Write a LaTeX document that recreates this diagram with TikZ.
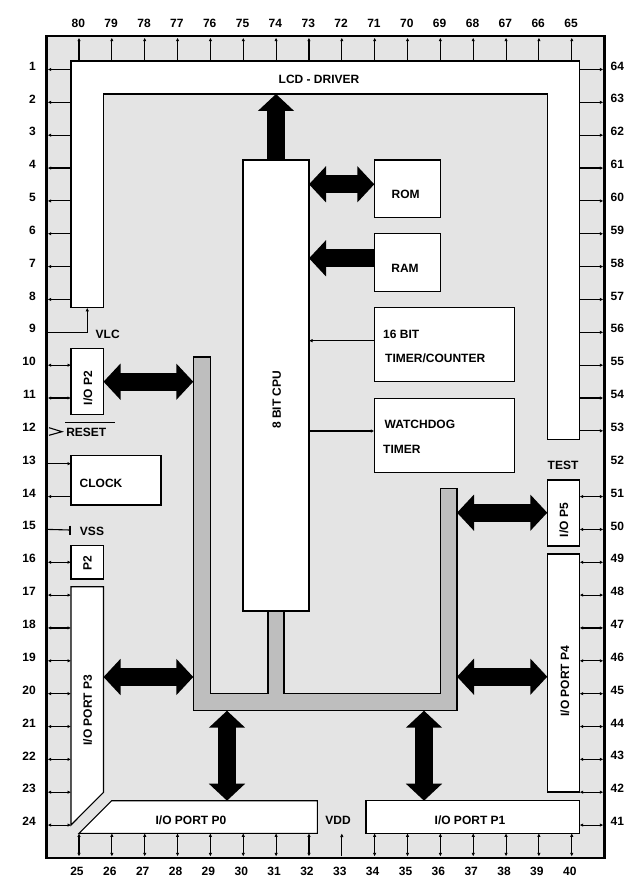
\documentclass[tikz,border=0pt]{standalone}
\usepackage{fontspec}
\setmainfont{Liberation Sans}
\usetikzlibrary{arrows.meta}
\definecolor{chipgray}{HTML}{E4E4E4}
\definecolor{busgray}{HTML}{BEBEBE}
\tikzset{
  blockbox/.style={draw,fill=white,line width=1.1pt,inner sep=0pt,outer sep=0pt},
  shapeline/.style={draw,fill=white,line width=1.1pt,line join=miter},
  txt/.style={inner sep=0pt,font=\fontsize{12}{14}\selectfont\bfseries},
  vtxt/.style={txt,rotate=90},
  pinout/.style={line width=1.1pt,-{Latex[length=3.5pt,width=3.5pt]}},
  pinboth/.style={line width=1.1pt,{Latex[length=3.5pt,width=3.5pt]}-{Latex[length=3.5pt,width=3.5pt]}},
  fatend/.style={line width=18pt,-{Triangle[length=17pt,width=35.3pt]}},
  fatboth/.style={line width=18pt,{Triangle[length=17pt,width=35.3pt]}-{Triangle[length=17pt,width=35.3pt]}}
}
\begin{document}
\begin{tikzpicture}[x=1pt,y=-1pt,line cap=butt,line join=miter]
\useasboundingbox (0,0) rectangle (624,877);
\fill [white] (0,0) rectangle (624,877);
\draw [line width=2.4pt,fill=chipgray] (46.5,36.3) rectangle (604.5,857.7);
% lcd driver and grey bus
\draw [shapeline] (71,61) -- (579.7,61) -- (579.7,439.5) -- (547.3,439.5) -- (547.3,94) -- (103.5,94) -- (103.5,307.5) -- (71,307.5) -- cycle;
\draw [line width=1.1pt,fill=busgray] (193.3,357) -- (210.3,357) -- (210.3,693.7) -- (268,693.7) -- (268,611) -- (284,611) -- (284,693.7) -- (440.3,693.7) -- (440.3,488.3) -- (457,488.3) -- (457,710.7) -- (193.3,710.7) -- cycle;
% ports with cut corners
\draw [shapeline] (71,586.7) -- (103.5,586.7) -- (103.5,792.3) -- (71,825) -- cycle;
\draw [shapeline] (79,833.3) -- (111.7,800.7) -- (317.3,800.7) -- (317.3,833.3) -- cycle;
% blocks
\node [blockbox,minimum width=66pt,minimum height=451pt] (cpu) at (276,385.5) {};
\node [blockbox,minimum width=66pt,minimum height=57.5pt] (rom) at (407.3,188.75) {};
\node [blockbox,minimum width=66pt,minimum height=58pt] (ram) at (407.3,262.5) {};
\node [blockbox,minimum width=140pt,minimum height=74pt] (timer) at (444.3,344.7) {};
\node [blockbox,minimum width=140pt,minimum height=74pt] (watchdog) at (444.3,435.3) {};
\node [blockbox,minimum width=32.5pt,minimum height=66pt] (iopt) at (87.25,381.3) {};
\node [blockbox,minimum width=90pt,minimum height=49.3pt] (clock) at (116,480.35) {};
\node [blockbox,minimum width=32.5pt,minimum height=33.3pt] (ptwo) at (87.25,562.35) {};
\node [blockbox,minimum width=32.4pt,minimum height=66pt] (iopf) at (563.5,513) {};
\node [blockbox,minimum width=32.4pt,minimum height=238pt] (iopr) at (563.5,673) {};
\node [blockbox,minimum width=213.7pt,minimum height=32.6pt] (iopb) at (472.85,817) {};
% texts
\node [txt] (lcdtxt) at (319,79.5) {LCD - DRIVER};
\node [vtxt] (cputxt) at (276.7,399.7) {8 BIT CPU};
\node [txt] (romtxt) at (405.7,194.7) {ROM};
\node [txt] (ramtxt) at (405,268.5) {RAM};
\node [txt,anchor=west] (timtxta) at (383,334) {16 BIT};
\node [txt,anchor=west] (timtxtb) at (385,358.3) {TIMER/COUNTER};
\node [txt,anchor=west] (wdtxta) at (384.5,424.3) {WATCHDOG};
\node [txt,anchor=west] (wdtxtb) at (383,449.3) {TIMER};
\node [vtxt] (ioptxt) at (88,388) {I/O P2};
\node [txt] (clocktxt) at (101,483) {CLOCK};
\node [vtxt] (ptwotxt) at (87.5,563) {P2};
\node [vtxt] (ptxt) at (87.7,710) {I/O PORT P3};
\node [txt] (pztxt) at (191,820) {I/O PORT P0};
\node [txt] (potxt) at (470,820) {I/O PORT P1};
\node [vtxt] (pftxt) at (564,520) {I/O P5};
\node [vtxt] (prtxt) at (565,681) {I/O PORT P4};
\node [txt] (vlctxt) at (107.7,334) {VLC};
\node [txt] (vsstxt) at (92,531) {VSS};
\node [txt] (vddtxt) at (338,820) {VDD};
\node [txt] (testtxt) at (563,465.7) {TEST};
\node [txt] (resettxt) at (86.3,432.5) {RESET};
\coordinate (resetl) at (65,422.7);
\coordinate (resetr) at (115,422.7);
\draw [line width=1.1pt] (resetl) -- (resetr);
% top row 80..65, bottom row 25..40
\foreach \n [count=\i from 0] in {80,79,...,65} {
  \node [txt] (lab\n) at ({78.3+32.85*\i},23) {\n};
  \coordinate (lead\n) at ({79+32.85*\i},61);
  \coordinate (pin\n) at ({79+32.85*\i},37.7);
  \draw [pinout] (lead\n) -- (pin\n);
}
\foreach \n [count=\i from 0] in {25,26,...,32,34,35,...,40} {
  \pgfmathsetmacro{\px}{79+32.85*(\n-25)}
  \node [txt] (lab\n) at ({\px-2},871.7) {\n};
  \coordinate (lead\n) at (\px,833.3);
  \coordinate (pin\n) at (\px,856.4);
  \draw [pinboth] (lead\n) -- (pin\n);
}
\node [txt] (lab33) at (339.8,871.7) {33};
\coordinate (lead33) at (341.8,833.5);
\coordinate (pin33) at (341.8,856.4);
\draw [pinout] (pin33) -- (lead33);
% left row
\foreach \n in {1,...,24} {
  \pgfmathsetmacro{\py}{69.5+32.85*(\n-1)}
  \node [txt,anchor=east] (lab\n) at (36,{\py-3.5}) {\n};
  \coordinate (pin\n) at (47.7,\py);
  \coordinate (lead\n) at (71,\py);
}
\foreach \n in {1,...,8,14} {
  \draw [pinout] (lead\n) -- (pin\n);
}
\foreach \n in {10,11,16,17,...,24} {
  \draw [pinboth] (lead\n) -- (pin\n);
}
\draw [pinout] (pin13) -- (lead13);
\coordinate (vlcend) at (87.3,307.8);
\draw [pinout] (pin9) -| (vlcend);
\coordinate (vssend) at (70,530);
\draw [line width=1.1pt] (pin15) -- (vssend);
\draw [line width=1.6pt] (70,525.5) -- (70,534.5);
\coordinate (rsttip) at (62,431.7);
\draw [line width=1.1pt] (49,427.7) -- (rsttip) -- (49,435.3);
% right row 64..41
\foreach \n in {64,63,...,41} {
  \pgfmathsetmacro{\py}{69.5+32.85*(64-\n)}
  \node [txt,anchor=west] (lab\n) at (610.4,{\py-3.5}) {\n};
  \coordinate (pin\n) at (603.3,\py);
  \coordinate (lead\n) at (579.7,\py);
}
\foreach \n in {64,63,...,53} {
  \draw [pinout] (lead\n) -- (pin\n);
}
\foreach \n in {51,50,...,41} {
  \draw [pinboth] (lead\n) -- (pin\n);
}
% thin links around the cpu
\coordinate (timin) at (374.3,340.7);
\coordinate (wdin) at (374.3,431);
\draw [pinout] (timin) -- (timin -| cpu.east);
\draw [pinout] (wdin -| cpu.east) -- (wdin);
% fat bus arrows
\coordinate (lcdin) at (276,94);
\coordinate (romin) at (374.3,184.3);
\coordinate (ramin) at (374.3,258.3);
\coordinate (busa) at (193.3,381.7);
\coordinate (busb) at (193.3,677);
\coordinate (busc) at (227,710.7);
\coordinate (busd) at (424,710.7);
\coordinate (buse) at (457,512.7);
\coordinate (busf) at (457,676.7);
\coordinate (pzin) at (227,800.7);
\draw [fatend] (cpu.north) -- (lcdin);
\draw [fatboth] (romin -| cpu.east) -- (romin);
\draw [fatend] (ramin) -- (ramin -| cpu.east);
\draw [fatboth] (busa -| iopt.east) -- (busa);
\draw [fatboth] (busb -| iopt.east) -- (busb);
\draw [fatboth] (busc) -- (pzin);
\draw [fatboth] (busd) -- (busd |- iopb.north);
\draw [fatboth] (buse) -- (buse -| iopf.west);
\draw [fatboth] (busf) -- (busf -| iopr.west);
\end{tikzpicture}
\end{document}
